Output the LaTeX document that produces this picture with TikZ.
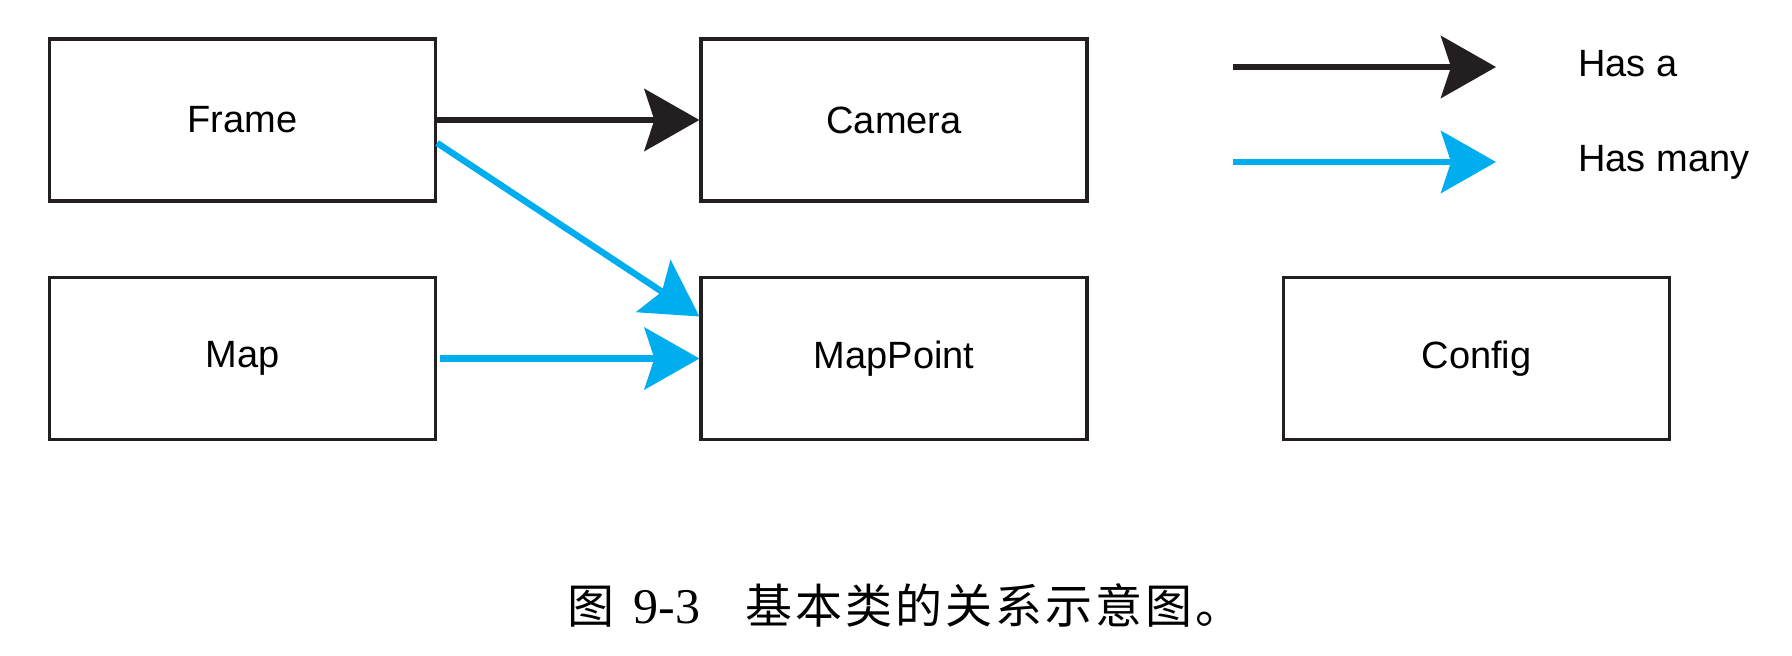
\documentclass[tikz,border=0pt]{standalone}
\usepackage{fontspec}
\newfontfamily\boxfont{Liberation Sans}
\newfontfamily\numfont{Liberation Serif}
\newfontfamily\cjk[LetterSpace=6.4]{Noto Sans CJK SC}
\usetikzlibrary{arrows.meta}
\definecolor{hasablack}{HTML}{231F20}
\definecolor{hasmanyblue}{HTML}{00AEEF}

\begin{document}
\begin{tikzpicture}[x=0.5pt, y=-0.5pt,
  box/.style={draw=hasablack, line width=1.6pt, minimum width=193pt, minimum height=81pt, font=\boxfont\fontsize{19}{23}\selectfont},
  label/.style={font=\boxfont\fontsize{19}{23}\selectfont, anchor=base west, inner sep=0pt},
  hasa/.style={draw=hasablack, line width=3.2pt, -{Stealth[length=27.5pt, width=31pt, inset=5pt]}},
  hasmany/.style={draw=hasmanyblue, line width=3.2pt, -{Stealth[length=27.5pt, width=31pt, inset=5pt]}}]
\useasboundingbox (0,0) rectangle (1792,656);

\node[box] (Frame) at (242.5,120) {Frame};
\node[box] (Camera) at (894,120) {Camera};
\node[box] (Map) at (242.5,358.5) {Map};
\node[box] (MapPoint) at (894,358.5) {MapPoint};
\node[box] (Config) at (1476.5,358.5) {Config};

\draw[hasa] (Frame.east) -- (Camera.west);
\draw[hasmany] ([yshift=-11.5pt]Frame.east) -- ([yshift=21pt]MapPoint.west);
\draw[hasmany, shorten <=1.5pt] (Map.east) -- (MapPoint.west);

% legend
\coordinate (hasaStart) at (1233,67);
\coordinate (hasaEnd) at (1496,67);
\coordinate (hasmanyStart) at (1233,162);
\coordinate (hasmanyEnd) at (1496,162);
\draw[hasa] (hasaStart) -- (hasaEnd);
\draw[hasmany] (hasmanyStart) -- (hasmanyEnd);
\node[label] (hasaText) at (1578,77) {Has a};
\node[label] (hasmanyText) at (1578,172) {Has many};

\node[anchor=base west, inner sep=0pt] (caption) at (567,624) {\cjk\fontsize{23.5}{28}\selectfont 图\hspace{9.5pt}{\numfont\fontsize{25}{30}\selectfont 9-3}\hspace{22.5pt}基本类的关系示意图。};

\end{tikzpicture}
\end{document}
